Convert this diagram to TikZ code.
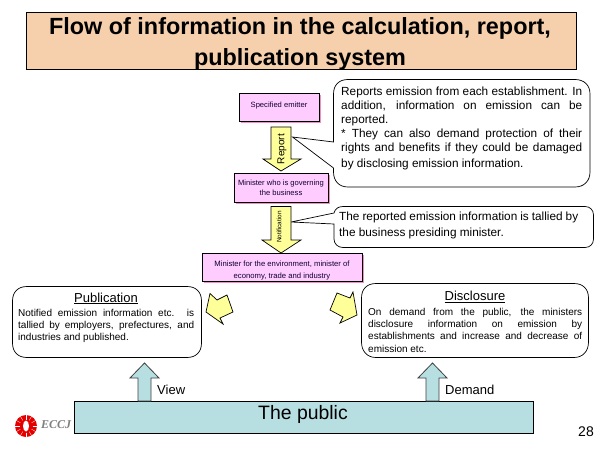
\documentclass[tikz,border=0pt]{standalone}
\usepackage{fontspec}
\setmainfont{Liberation Sans}
\newfontfamily\eccjfont{Liberation Serif}
\usetikzlibrary{calc}
\definecolor{peach}{HTML}{F6D0AC}
\definecolor{pinkbox}{HTML}{FFCCFF}
\definecolor{shadowp}{HTML}{F090C0}
\definecolor{yellowarr}{HTML}{FFFF99}
\definecolor{bluebox}{HTML}{B7DEE1}
\definecolor{navytext}{HTML}{100030}
\tikzset{
  x=1pt,y=-1pt,
  titlebox/.style={draw=black,line width=.8pt,fill=peach},
  pinknode/.style={draw=black,line width=.9pt,fill=pinkbox,inner sep=0pt},
  pinklabel/.style={align=center,inner sep=0pt,text=navytext},
  callout/.style={draw=black,line width=.7pt,fill=white},
  yarrow/.style={draw=black,line width=.7pt,fill=yellowarr,line join=miter},
  barrow/.style={draw=black!75,line width=.8pt,fill=bluebox,line join=miter},
  body/.style={inner sep=0pt,align=left,anchor=north west},
}
\newcommand{\jl}[2]{\makebox[#1pt][s]{#2}}
\newcommand{\calltxt}{\fontsize{11.8}{14}\selectfont}
\newcommand{\midtxt}{\fontsize{10}{12}\selectfont}
\newcommand{\pinktxt}{\fontsize{7.6}{10.5}\selectfont}
\begin{document}
\begin{tikzpicture}
\useasboundingbox (0,0) rectangle (600,450);
\fill[white] (0,0) rectangle (600,450);
% title
\draw[titlebox] (26.5,12.5) rectangle (576,69.5);
\node[font=\bfseries\fontsize{23.4}{31.5}\selectfont,align=center,inner sep=0pt] (title) at (300,44) {Flow of information in the calculation, report,\\publication system};
% callouts
\draw[callout] (333.5,94) .. controls (333.5,85) and (339,79.5) .. (348,79.5) -- (575,79.5) .. controls (584,79.5) and (590,85) .. (590,94) -- (590,172) .. controls (590,181) and (584,187) .. (575,187) -- (348,187) .. controls (339,187) and (333.5,181) .. (333.5,172) -- (333.5,168) -- (292.5,137) -- (333.5,142) -- cycle;
\draw[callout] (334,213) .. controls (335,209) and (338,206.5) .. (343,206.5) -- (585,206.5) .. controls (590,206.5) and (593.5,210) .. (593.5,215) -- (593.5,239) .. controls (593.5,244) and (590,247.5) .. (585,247.5) -- (343,247.5) .. controls (338,247.5) and (334,244) .. (334,239) -- (334,224) -- (291,222) -- cycle;
\node[body,font=\calltxt] (t1) at (341,87) {\jl{241}{Reports emission from each establishment. In}\\\jl{241}{addition, information on emission can be}\\reported.\\[0pt]\jl{241}{{*} They can also demand protection of their}\\\jl{241}{rights and benefits if they could be damaged}\\[2pt]by disclosing emission information.};
\node[body,font=\fontsize{11.8}{16}\selectfont] (t2) at (339,212) {\jl{239}{The reported emission information is tallied by}\\the business presiding minister.};
% pink boxes
\fill[shadowp] (241,95) rectangle (321,123);
\node[pinknode,minimum width=80pt,minimum height=28pt] (emit) at (279,107) {};
\node[pinklabel,font=\pinktxt] (emitl) at (279,106) {Specified emitter};
\fill[shadowp] (236,175) rectangle (330,204);
\node[pinknode,minimum width=94pt,minimum height=29pt] (gov) at (281,187.5) {};
\node[pinklabel,font=\pinktxt] (govl) at (281,188) {Minister who is governing\\the business};
\fill[shadowp] (204,255) rectangle (364,283);
\node[pinknode,minimum width=160pt,minimum height=28pt] (env) at (282,267) {};
\node[pinklabel,font=\fontsize{7.7}{12}\selectfont] (envl) at (282,270.5) {Minister for the environment, minister of\\economy, trade and industry};
% yellow arrows
\draw[yarrow] (271,127) -- (291,127) -- (291,159) -- (301,159) -- (281,171) -- (263,159) -- (271,159) -- cycle;
\node[rotate=90,font=\fontsize{10}{12}\selectfont,inner sep=0pt] (lr) at (282,149) {Report};
\draw[yarrow] (271,206.5) -- (291,206.5) -- (291,240) -- (301,240) -- (281,253) -- (262,240) -- (271,240) -- cycle;
\node[rotate=90,font=\fontsize{6.4}{8}\selectfont,inner sep=0pt] (ln) at (279,227) {Notification};
\draw[yarrow] (210,293.5) -- (206,312) -- (223,324) -- (220,318) -- (233,312) -- (227,295) -- (217,300) -- cycle;
\draw[yarrow] (330,310) -- (337,293) -- (350,298) -- (353,292) -- (357,315) -- (340,323) -- (343,317) -- cycle;
% lower callouts
\draw[callout] (12.5,301) .. controls (12.5,292) and (18,286.5) .. (27,286.5) -- (187,286.5) .. controls (196,286.5) and (201.5,292) .. (201.5,301) -- (201.5,343) .. controls (201.5,352) and (196,357.5) .. (187,357.5) -- (27,357.5) .. controls (18,357.5) and (12.5,352) .. (12.5,343) -- cycle;
\draw[callout] (361.5,298) .. controls (361.5,289) and (367,283.5) .. (376,283.5) -- (574,283.5) .. controls (583,283.5) and (588.5,289) .. (588.5,298) -- (588.5,342) .. controls (588.5,351) and (583,357.5) .. (574,357.5) -- (376,357.5) .. controls (367,357.5) and (361.5,351) .. (361.5,342) -- cycle;
\node[font=\fontsize{13}{15}\selectfont,inner sep=0pt] (pub) at (106,298.5) {\underline{Publication}};
\node[font=\fontsize{13}{15}\selectfont,inner sep=0pt] (dis) at (475,297) {\underline{Disclosure}};
\node[body,font=\midtxt] (t3) at (18,309) {\jl{176}{Notified emission information etc. is}\\\jl{176}{tallied by employers, prefectures, and}\\industries and published.};
\node[body,font=\midtxt] (t4) at (368,308) {\jl{214}{On demand from the public, the ministers}\\\jl{214}{disclosure information on emission by}\\\jl{214}{establishments and increase and decrease of}\\[1.5pt]emission etc.};
% public bar
\draw[draw=black,line width=.9pt,fill=bluebox] (74.5,401.5) rectangle (533.5,433.5);
\node[font=\fontsize{19.4}{22}\selectfont,inner sep=0pt] (pubbar) at (303,414) {The public};
% blue arrows
\draw[barrow] (138,401) -- (138,378) -- (130,378) -- (144.5,363) -- (159,378) -- (151,378) -- (151,401) -- cycle;
\draw[barrow] (426,401) -- (426,378) -- (418,378) -- (432.5,363) -- (447,378) -- (439,378) -- (439,401) -- cycle;
\node[anchor=west,font=\fontsize{13}{15}\selectfont,inner sep=0pt] (view) at (157,389.5) {View};
\node[anchor=west,font=\fontsize{13}{15}\selectfont,inner sep=0pt] (dem) at (445,390) {Demand};
% logo
\fill[red!90!black] (26,426) circle (11);
\fill[white] (26,426) ellipse (3 and 5.5);
\foreach \a in {0,30,...,330}{\draw[white,line width=.35pt] ($(26,426)+(\a:6.5)$) -- ($(26,426)+(\a:11)$);}
\node[font=\eccjfont\bfseries\itshape\fontsize{12}{14}\selectfont,text=black!50,inner sep=0pt,anchor=west] (eccj) at (41,425) {ECCJ};
\node[font=\fontsize{14}{16}\selectfont,inner sep=0pt] (num) at (586,432) {28};
\end{tikzpicture}
\end{document}
